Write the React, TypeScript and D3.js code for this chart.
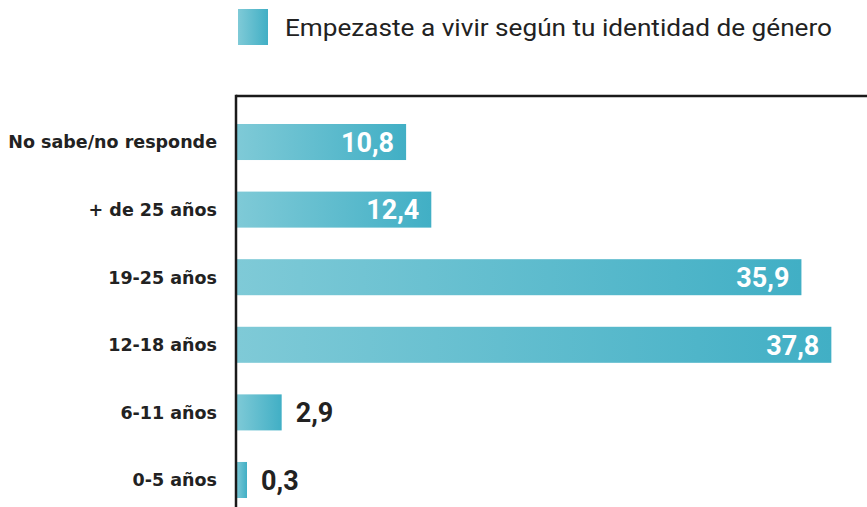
import * as d3 from "d3";

const categories = ["No sabe/no responde", "+ de 25 años", "19-25 años", "12-18 años", "6-11 años", "0-5 años"];
const values = [10.8, 12.4, 35.9, 37.8, 2.9, 0.3];
const seriesName = "Empezaste a vivir según tu identidad de género";

const fmt = (v: number) => v.toFixed(1).replace(".", ",");

export default function App() {
  const width = 867;
  const height = 507;
  const axisX = 236;
  const topY = 96;
  const minBar = 11; // tiny values still get a visible stub

  const x = d3.scaleLinear().domain([0, 40]).range([axisX, axisX + 630]);
  const y = d3.scaleBand<string>()
    .domain(categories)
    .range([124, 498])
    .paddingInner(0.467)
    .paddingOuter(0);

  const font = "Roboto, 'Open Sans', sans-serif";

  return (
    <svg width={width} height={height} style={{ position: "absolute", left: 0, top: 0 }} fontFamily={font}>
      <defs>
        <linearGradient id="barGrad" x1="0" x2="1" y1="0" y2="0">
          <stop offset="0%" stopColor="#7fcad7" />
          <stop offset="100%" stopColor="#41afc5" />
        </linearGradient>
      </defs>

      {/* legend */}
      <rect x={238} y={9} width={30} height={36} fill="url(#barGrad)" />
      <text x={285} y={36} fontSize={24} fill="#222" textLength={547} lengthAdjust="spacingAndGlyphs">
        {seriesName}
      </text>

      {/* bars */}
      {categories.map((c, i) => {
        const v = values[i];
        const y0 = y(c)!;
        const bw = y.bandwidth();
        const barW = Math.max(x(v) - axisX, minBar);
        const x1 = axisX + barW;
        const inside = v > 5;
        return (
          <g key={c}>
            <rect x={axisX} y={y0} width={barW} height={bw} fill="url(#barGrad)" />
            <text
              x={217}
              y={y0 + bw / 2}
              dy="0.36em"
              textAnchor="end"
              fontFamily="'DejaVu Sans', sans-serif"
              fontSize={17.5}
              fontWeight={700}
              fill="#222"
            >
              {c}
            </text>
            <text
              x={inside ? x1 - 12 : x1 + 14}
              y={y0 + bw / 2}
              dy="0.36em"
              textAnchor={inside ? "end" : "start"}
              fontSize={27}
              fontWeight={700}
              fill={inside ? "#fff" : "#222"}
            >
              {fmt(v)}
            </text>
          </g>
        );
      })}

      {/* axis frame */}
      <line x1={axisX} x2={width} y1={topY} y2={topY} stroke="#1a1a1a" strokeWidth={2.5} />
      <line x1={axisX} x2={axisX} y1={topY - 1.25} y2={height} stroke="#1a1a1a" strokeWidth={2.5} />
    </svg>
  );
}
